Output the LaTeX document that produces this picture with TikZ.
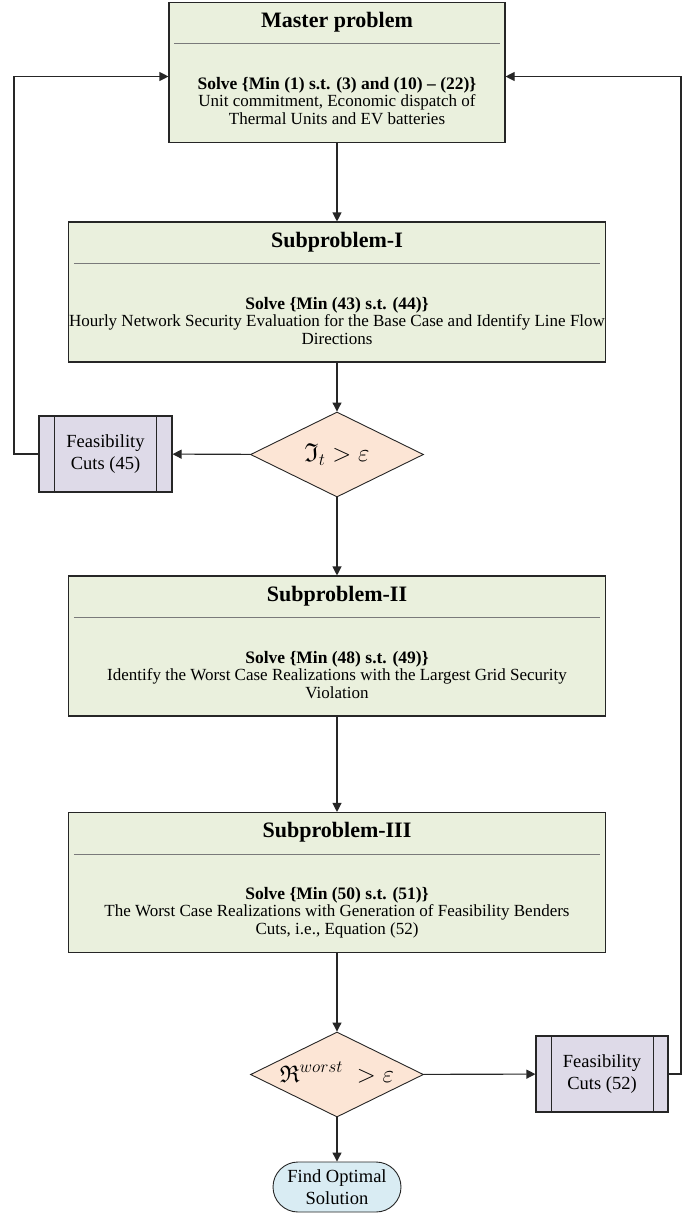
\documentclass[tikz,border=0pt]{standalone}
\usepackage{amssymb}
\usepackage{fontspec}
\setmainfont{Liberation Serif}
\usetikzlibrary{shapes.geometric,arrows.meta,calc}
\definecolor{linec}{HTML}{262626}
\definecolor{rulec}{HTML}{7A7A7A}
\definecolor{boxfill}{HTML}{EAF0DD}
\definecolor{decfill}{HTML}{FCE5D5}
\definecolor{feasfill}{HTML}{DEDAE8}
\definecolor{termfill}{HTML}{D9ECF3}
\begin{document}
\begin{tikzpicture}[x=1pt,y=-1pt,
  bigbox/.style={draw=linec, line width=1.1pt, fill=boxfill, minimum height=140pt, inner sep=0pt},
  dec/.style={diamond, draw=linec, line width=0.9pt, fill=decfill, minimum width=173pt, minimum height=85pt, inner sep=0pt},
  dectext/.style={inner sep=0pt},
  feasbox/.style={draw=linec, line width=1.1pt, fill=feasfill, minimum width=133pt, minimum height=76pt, inner sep=0pt, align=center, font=\fontsize{18.5}{22}\selectfont},
  termbox/.style={draw=linec, line width=0.9pt, fill=termfill, rounded corners=25pt, minimum width=128pt, minimum height=50pt, inner sep=0pt, align=center, font=\fontsize{18.5}{22}\selectfont},
  ttl/.style={font=\fontsize{22}{26}\selectfont\bfseries, inner sep=0pt, anchor=base},
  bl/.style={font=\fontsize{17.5}{20}\selectfont\bfseries, inner sep=0pt, anchor=base},
  nl/.style={font=\fontsize{17}{20}\selectfont, inner sep=0pt, anchor=base},
  rulel/.style={draw=rulec, line width=0.9pt},
  innerl/.style={draw=linec, line width=1.1pt},
  arr/.style={draw=linec, line width=1.1pt, -{Triangle[length=9pt,width=9pt]}}
]
\useasboundingbox (0,0) rectangle (682,1216);

% nodes
\node[bigbox, minimum width=336pt] (m) at (337,72.5) {};
\node[bigbox, minimum width=537pt] (s1) at (337,292) {};
\node[dec] (d1) at (337,454.5) {};
\node[dectext, font=\fontsize{26}{30}\selectfont] (d1t) at (d1.center) {$\mathfrak{I}_t > \varepsilon$};
\node[feasbox] (f45) at (105.5,454) {Feasibility\\Cuts (45)};
\node[bigbox, minimum width=537pt] (s2) at (337,646) {};
\node[bigbox, minimum width=537pt] (s3) at (337,882.5) {};
\node[dec] (d2) at (337,1074.5) {};
\node[dectext, font=\fontsize{24}{28}\selectfont] (d2t) at ([yshift=2pt]d2.center) {$\mathfrak{R}^{worst}\; > \varepsilon$};
\node[feasbox, minimum width=132pt] (f52) at (602,1074) {Feasibility\\Cuts (52)};
\node[termbox] (t) at (337,1187) {Find Optimal\\Solution};

% feasibility inner lines
\draw[innerl] ($(f45.north west)+(16,0)$) -- ($(f45.south west)+(16,0)$);
\draw[innerl] ($(f45.north east)+(-16,0)$) -- ($(f45.south east)+(-16,0)$);
\draw[innerl] ($(f52.north west)+(16,0)$) -- ($(f52.south west)+(16,0)$);
\draw[innerl] ($(f52.north east)+(-15,0)$) -- ($(f52.south east)+(-15,0)$);

% master text
\node[ttl] (mt) at ($(m.north)+(0,26)$) {Master problem};
\draw[rulel] ($(m.north west)+(6,41)$) -- ($(m.north east)+(-6,41)$);
\node[bl] (m1) at ($(m.north)+(0,88)$) {Solve \{Min (1) s.t. (3) and (10) -- (22)\}};
\node[nl] (m2) at ($(m.north)+(0,105)$) {Unit commitment, Economic dispatch of};
\node[nl] (m3) at ($(m.north)+(0,123)$) {Thermal Units and EV batteries};

% sub I
\node[ttl] (s1t) at ($(s1.north)+(0,26)$) {Subproblem-I};
\draw[rulel] ($(s1.north west)+(6,42)$) -- ($(s1.north east)+(-6,42)$);
\node[bl] (s1a) at ($(s1.north)+(0,88)$) {Solve \{Min (43) s.t. (44)\}};
\node[nl] (s1b) at ($(s1.north)+(0,105)$) {Hourly Network Security Evaluation for the Base Case and Identify Line Flow};
\node[nl] (s1c) at ($(s1.north)+(0,123)$) {Directions};

% sub II
\node[ttl] (s2t) at ($(s2.north)+(0,26)$) {Subproblem-II};
\draw[rulel] ($(s2.north west)+(6,42)$) -- ($(s2.north east)+(-6,42)$);
\node[bl] (s2a) at ($(s2.north)+(0,88)$) {Solve \{Min (48) s.t. (49)\}};
\node[nl] (s2b) at ($(s2.north)+(0,105)$) {Identify the Worst Case Realizations with the Largest Grid Security};
\node[nl] (s2c) at ($(s2.north)+(0,123)$) {Violation};

% sub III
\node[ttl] (s3t) at ($(s3.north)+(0,26)$) {Subproblem-III};
\draw[rulel] ($(s3.north west)+(6,42)$) -- ($(s3.north east)+(-6,42)$);
\node[bl] (s3a) at ($(s3.north)+(0,88)$) {Solve \{Min (50) s.t. (51)\}};
\node[nl] (s3b) at ($(s3.north)+(0,105)$) {The Worst Case Realizations with Generation of Feasibility Benders};
\node[nl] (s3c) at ($(s3.north)+(0,123)$) {Cuts, i.e., Equation (52)};

% connectors
\coordinate (lx) at (14,0);
\coordinate (rx) at (681,0);
\draw[arr] (m) -- (s1);
\draw[arr] (s1) -- (d1);
\draw[arr] (d1) -- (f45);
\draw[arr] (d1) -- (s2);
\draw[arr] (s2) -- (s3);
\draw[arr] (s3) -- (d2);
\draw[arr] (d2) -- (f52);
\draw[arr] (d2) -- (t);
\draw[arr] (f45.west) -- (f45.west -| lx) |- ([yshift=-4pt]m.west);
\draw[arr] (f52.east) -- (f52.east -| rx) |- ([yshift=-4pt]m.east);
\end{tikzpicture}
\end{document}
